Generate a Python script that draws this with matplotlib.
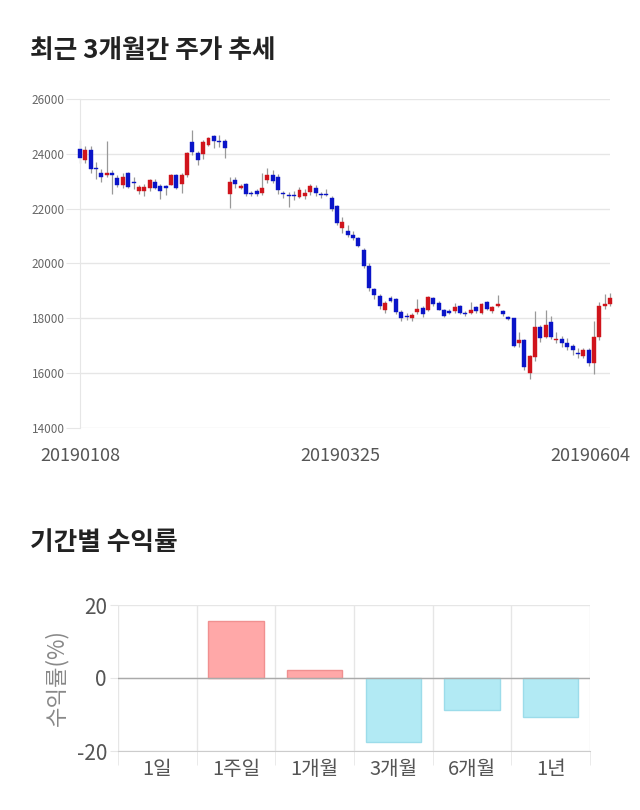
import matplotlib
matplotlib.use("Agg")
import matplotlib.pyplot as plt
from matplotlib.transforms import ScaledTranslation
import numpy as np

plt.rcParams['font.family'] = ['Noto Sans CJK KR', 'DejaVu Sans']

# ---------------- data ----------------
opens = [24180, 23780, 24140, 23500, 23290, 23230, 23310, 23110, 22860, 23290,
         22980, 22650, 22650, 22740, 22980, 22830, 22830, 22860, 23230, 22900,
         23230, 24440, 24020, 23980, 24320, 24660, 24480, 24480, 22520, 23050,
         22760, 22890, 22560, 22650, 22560, 23050, 23230, 23170, 22560, 22480,
         22480, 22440, 22470, 22620, 22740, 22520, 22540, 22380, 22100, 21290,
         21200, 21040, 20920, 20500, 19910, 19060, 18810, 18300, 18740, 18700,
         18240, 18080, 18000, 18220, 18390, 18300, 18740, 18560, 18300, 18260,
         18260, 18460, 18200, 18200, 18400, 18200, 18600, 18260, 18450, 18270,
         18050, 18000, 17090, 17210, 16000, 16600, 17700, 17330, 17860, 17200,
         17240, 17090, 17000, 16720, 16640, 16840, 16360, 17330, 18460, 18510]
closes = [23840, 24140, 23430, 23440, 23170, 23310, 23230, 22860, 23170, 22780,
          22950, 22800, 22800, 23050, 22770, 22640, 22740, 23230, 22770, 23230,
          24020, 24080, 23780, 24420, 24570, 24470, 24440, 24220, 22980, 22890,
          22820, 22520, 22520, 22520, 22740, 23230, 23020, 22680, 22520, 22460,
          22460, 22680, 22580, 22830, 22580, 22500, 22500, 21980, 21490, 21530,
          21040, 20920, 20640, 19910, 19100, 18850, 18450, 18570, 18650, 18220,
          18000, 18060, 18130, 18340, 18150, 18790, 18520, 18320, 18100, 18210,
          18420, 18200, 18160, 18320, 18280, 18520, 18340, 18400, 18520, 18150,
          17990, 16990, 17210, 16240, 16620, 17700, 17300, 17760, 17330, 17240,
          17090, 16970, 16840, 16700, 16840, 16360, 17330, 18460, 18520, 18730]
highs = [24500, 24300, 24300, 23700, 23430, 24470, 23400, 23230, 23300, 23350,
         23150, 22850, 22900, 23100, 23100, 22900, 22850, 23250, 23250, 23300,
         24050, 24860, 24100, 24500, 24620, 24700, 24700, 24550, 23170, 23150,
         22900, 22950, 22650, 22700, 23300, 23500, 23400, 23250, 22650, 22600,
         22660, 22800, 22700, 22900, 22850, 22600, 22700, 22450, 22150, 21700,
         21400, 21200, 20950, 20550, 20000, 19100, 18900, 18650, 18800, 18750,
         18300, 18200, 18200, 18700, 18450, 18800, 18780, 18650, 18350, 18350,
         18550, 18500, 18250, 18600, 18450, 18550, 18650, 18450, 18860, 18300,
         18100, 18020, 17500, 17230, 16650, 18250, 17750, 18300, 18100, 17500,
         17350, 17300, 17050, 16900, 16900, 16900, 17900, 18600, 18900, 18920]
lows = [23650, 23650, 23300, 23100, 22990, 23150, 22520, 22800, 22740, 22740,
        22700, 22550, 22450, 22650, 22700, 22350, 22500, 22850, 22700, 22570,
        23150, 23940, 23600, 23800, 24300, 24200, 24250, 23850, 22010, 22750,
        22700, 22480, 22450, 22450, 22500, 22950, 22950, 22550, 22400, 22070,
        22300, 22400, 22350, 22500, 22450, 22400, 22450, 21900, 21400, 21100,
        20950, 20850, 20600, 19850, 19000, 18700, 18350, 18200, 18600, 18150,
        17900, 17950, 17920, 18150, 18050, 18250, 18450, 18300, 18050, 18150,
        18200, 18150, 18100, 18150, 18200, 18150, 18300, 18200, 18400, 18100,
        17950, 16950, 16950, 16100, 15800, 16450, 17150, 17300, 17250, 17100,
        16950, 16850, 16650, 16550, 16550, 16250, 15980, 17200, 18350, 18450]
date_tick_idx = [0, 49, 99]
date_tick_labels = ['20190108', '20190325', '20190604']
price_ticks = [14000, 16000, 18000, 20000, 22000, 24000, 26000]

periods = ['1일', '1주일', '1개월', '3개월', '6개월', '1년']
returns = [0.0, 15.5, 2.1, -17.6, -8.8, -10.8]

# ---------------- figure ----------------
fig = plt.figure(figsize=(6.4, 8.1), dpi=100)
grid_c = '#e6e6e6'
txt_c = '#666666'

fig.text(30/640, 1-50/810, '최근 3개월간 주가 추세', fontsize=18.5, fontweight='bold',
         color='#222222', va='center', ha='left')
fig.text(30/640, 1-543/810, '기간별 수익률', fontsize=18.5, fontweight='bold',
         color='#222222', va='center', ha='left')

# candlestick axes
ax = fig.add_axes([80/640, 1-428/810, 530/640, 329/810])
x = np.arange(len(opens))
up_c, dn_c = '#d0141c', '#0a14c8'
for i in x:
    o, c, h, l = opens[i], closes[i], highs[i], lows[i]
    col = up_c if c >= o else dn_c
    ax.vlines(i, l, h, color='#999999', linewidth=0.9, zorder=2, clip_on=False)
    bot = min(o, c)
    hgt = max(abs(c - o), 40)
    ax.bar(i, hgt, bottom=bot, width=0.74, color=col, edgecolor=col,
           linewidth=0.3, zorder=3, clip_on=False)
ax.set_xlim(0, len(opens) - 1)
ax.set_ylim(14000, 26000)
ax.set_yticks(price_ticks)
ax.set_yticklabels([str(t) for t in price_ticks])
ax.grid(axis='y', color=grid_c, linewidth=1)
ax.set_axisbelow(True)
for s in ['top', 'right', 'bottom']:
    ax.spines[s].set_visible(False)
ax.spines['left'].set_color(grid_c)
ax.tick_params(axis='y', length=10, color=grid_c, labelsize=8.5,
               labelcolor=txt_c, pad=1)
ax.set_xticks(date_tick_idx)
ax.set_xticklabels(date_tick_labels)
ax.tick_params(axis='x', length=0, labelsize=13, labelcolor='#555555', pad=14)
lbls = ax.get_xticklabels()
lbls[-1].set_transform(lbls[-1].get_transform() + ScaledTranslation(-20/100, 0, fig.dpi_scale_trans))
lbls[1].set_transform(lbls[1].get_transform() + ScaledTranslation(-2/100, 0, fig.dpi_scale_trans))

# returns bar axes
bx = fig.add_axes([118/640, 1-751/810, 472/640, 146/810])
xb = np.arange(len(periods))
cols = ['#ffa8a8' if v >= 0 else '#b2eaf4' for v in returns]
ecols = ['#f09090' if v >= 0 else '#9cdcea' for v in returns]
lws = [1 if v != 0 else 0 for v in returns]
bx.bar(xb, returns, width=0.7, color=cols, edgecolor=ecols, linewidth=lws, zorder=3)
bx.set_xlim(-0.5, len(periods) - 0.5)
bx.set_ylim(-20, 20)
bx.set_yticks([-20, 0, 20])
bx.set_yticklabels(['-20', '0', '20'])
bx.set_xticks(xb)
bx.set_xticklabels(periods)
bx.set_xticks(np.arange(-0.5, len(periods)), minor=True)
bx.grid(axis='x', which='minor', color=grid_c, linewidth=1)
bx.grid(axis='y', which='major', color=grid_c, linewidth=1)
bx.axhline(0, color='#aaaaaa', linewidth=1, zorder=4)
bx.set_axisbelow(True)
for s in ['top', 'right', 'left']:
    bx.spines[s].set_visible(False)
bx.spines['bottom'].set_color('#cccccc')
bx.tick_params(axis='x', which='major', length=0, labelsize=14.5,
               labelcolor='#555555', pad=6)
bx.tick_params(axis='x', which='minor', length=10, color=grid_c)
bx.tick_params(axis='y', length=6, color=grid_c, labelsize=15,
               labelcolor='#555555', pad=2)
bx.set_ylabel('수익률(%)', fontsize=16, color='#888888', labelpad=6)

fig.savefig('out.png', dpi=100, facecolor='white')
